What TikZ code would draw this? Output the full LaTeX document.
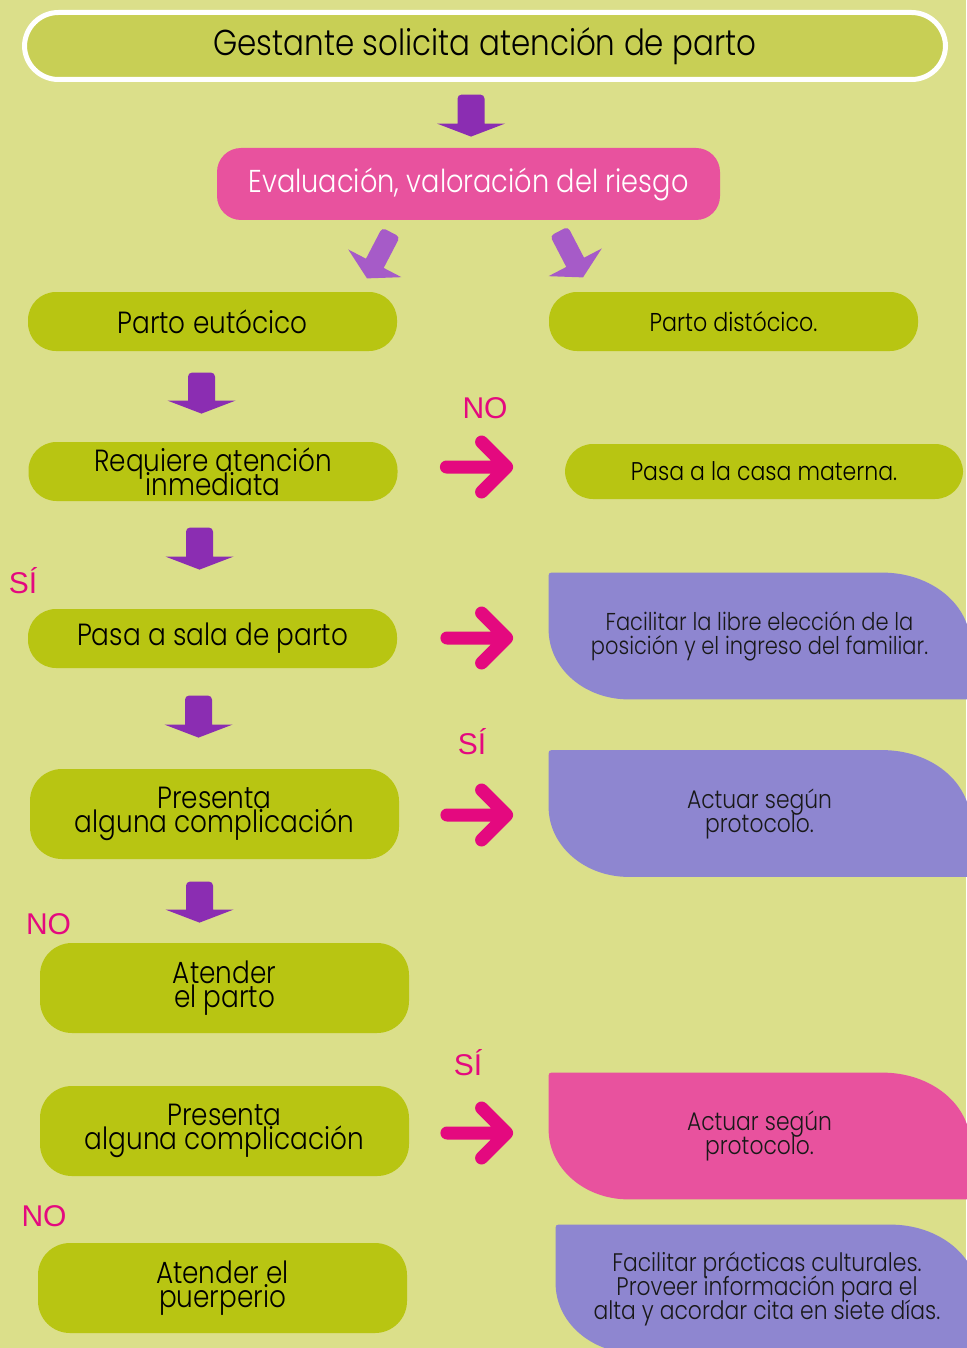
\documentclass[tikz,border=0pt]{standalone}
\usepackage{fontspec}
\IfFontExistsTF{Poppins Light}{\setmainfont{Poppins Light}[FakeStretch=0.86]}{%
  \IfFontExistsTF{Poppins-Light.ttf}{\setmainfont{Poppins-Light.ttf}[FakeStretch=0.86]}{%
    \setmainfont{Poppins}[FakeStretch=0.86]}}
\newfontfamily\etiq{Liberation Sans}
\usetikzlibrary{calc, backgrounds}
\definecolor{fondo}{HTML}{DBDF8A}
\definecolor{verdetop}{HTML}{C8CF55}
\definecolor{lima}{HTML}{B8C512}
\definecolor{rosanodo}{HTML}{E8529E}
\definecolor{lila}{HTML}{8E86D0}
\definecolor{morado}{HTML}{8B2DB2}
\definecolor{lilaflecha}{HTML}{A65BC8}
\definecolor{rosa}{HTML}{E4097F}

% tamano de letra con renglones apretados
\newcommand{\tam}[1]{\fontsize{#1}{12}\selectfont\lineskiplimit=-30pt\lineskip=0pt}
% flecha de bloque hacia abajo: punta, largo
\newcommand{\bajada}[2]{%
  \fill[morado] ($(#1)+(-13.5,-13)$) [rounded corners=2pt] -- ++(0,-#2+13) -- ++(27,0)
    [sharp corners] -- ($(#1)+(13.5,-13)$) -- ++(20.5,0) -- (#1) -- ($(#1)+(-34,-13)$) -- cycle;}
% flecha rosa: inicio, punta
\newcommand{\flecharosa}[2]{%
  \draw[flecha] (#1) -- (#2) ++(-25,-25) -- (#2) -- ++(-25,25);}
% fondo de las hojas
\newcommand{\hojafondo}[2]{%
  \fill[#2] (#1.south east) -- ($(#1.south west)+(80,0)$)
    .. controls ($(#1.south west)+(36,0)$) and ($(#1.south west)+(0,-31)$) .. ($(#1.south west)+(0,-70)$)
    -- ($(#1.north west)+(0,6)$) .. controls (#1.north west) .. ($(#1.north west)+(6,0)$)
    -- ($(#1.north east)+(-88,0)$)
    .. controls ($(#1.north east)+(-39,0)$) and ($(#1.north east)+(0,32)$) .. ($(#1.north east)+(0,72)$)
    -- cycle;}

\begin{document}
\begin{tikzpicture}[x=0.5pt, y=-0.5pt,
    every node/.style={inner sep=0pt, align=center},
    paso/.style={fill=lima, rounded corners=14pt, minimum width=184.5pt, minimum height=29.5pt,
      font=\tam{15.3}},
    pasoalto/.style={paso, minimum height=45pt, rounded corners=16pt},
    hoja/.style={minimum width=210.5pt, minimum height=63pt, text=black!90, font=\tam{12.7}},
    resp/.style={text=rosa, font=\etiq\fontsize{15}{15}\selectfont},
    flecha/.style={draw=rosa, line width=6.5pt, line cap=round, line join=round}]
    \useasboundingbox (0,0) rectangle (966,1348);

    % Inicio
    \node[draw=white, line width=2.5pt, fill=verdetop, rounded corners=17pt, minimum width=460.5pt,
      minimum height=33.5pt, font=\tam{18}] (gest) at (485,46) {Gestante solicita atención de parto};
    \node[fill=rosanodo, rounded corners=12pt, minimum width=251.5pt, minimum height=36pt, text=white,
      font=\tam{15.8}] (eval) at (468.5,184) {Evaluación, valoración del riesgo};

    % Columna izquierda
    \node[paso] (eut) at (212.5,321.5) {Parto eutócico};
    \node[paso] (req) at (213,471.5) {Requiere atención\\inmediata};
    \node[paso] (sala) at (212.5,638.5) {Pasa a sala de parto};
    \node[pasoalto] (comp1) at (214.5,814) {Presenta\\alguna complicación};
    \node[pasoalto] (parto) at (224.5,988) {Atender\\el parto};
    \node[pasoalto] (comp2) at (224.5,1131) {Presenta\\alguna complicación};
    \node[pasoalto] (puer) at (222.5,1288) {Atender el\\puerperio};

    % Columna derecha
    \node[paso, font=\tam{12.9}] (dist) at (733.5,321.5) {Parto distócico.};
    \node[paso, minimum width=199pt, minimum height=27.5pt, font=\tam{12.8}] (casa) at (764,471.5) {Pasa a la casa materna.};
    \node[hoja, font=\tam{12.2}] (libre) at (759.5,636) {Facilitar la libre elección de la\\posición y el ingreso del familiar.};
    \node[hoja] (prot1) at (759.5,813.5) {Actuar según\\protocolo.};
    \node[hoja] (prot2) at (759.5,1136) {Actuar según\\protocolo.};
    \node[hoja, minimum width=211pt, minimum height=64pt] (cult) at (767,1289) {Facilitar prácticas culturales.\\Proveer información para el\\alta y acordar cita en siete días.};

    % Respuestas
    \node[resp] (no1) at (485,408.5) {NO};
    \node[resp, anchor=base] (si1) at (23,593) {SÍ};
    \node[resp, anchor=base] (si2) at (472,754) {SÍ};
    \node[resp] (no2) at (48.5,924.5) {NO};
    \node[resp, anchor=base] (si3) at (468,1075) {SÍ};
    \node[resp] (no3) at (44,1216.5) {NO};

    % Flechas moradas
    \coordinate (p1) at ($(eval.north)+(2.5,-11)$);
    \coordinate (p2) at ($(req.north)+(-11.5,-28)$);
    \coordinate (p3) at ($(sala.north)+(-13,-39)$);
    \coordinate (p4) at ($(comp1.north)+(-16,-31)$);
    \coordinate (p5) at ($(parto.north)+(-25,-20)$);
    \bajada{p1}{42}
    \bajada{p2}{41}
    \bajada{p3}{42}
    \bajada{p4}{42}
    \bajada{p5}{41}
    \begin{scope}[shift={($(eval.south)+(-101.5,58)$)}, rotate=-27.5]
      \fill[lilaflecha] (-10,-17) [rounded corners=2pt] -- (-10,-52) -- (10,-52) [sharp corners] -- (10,-17) -- (30,-17) -- (0,0) -- (-30,-17) -- cycle;
    \end{scope}
    \begin{scope}[shift={($(eval.south)+(114.5,57)$)}, rotate=27.5]
      \fill[lilaflecha] (-10,-17) [rounded corners=2pt] -- (-10,-52) -- (10,-52) [sharp corners] -- (10,-17) -- (30,-17) -- (0,0) -- (-30,-17) -- cycle;
    \end{scope}

    % Flechas rosas
    \coordinate (f1a) at ($(req.east)+(48.5,-4.5)$);
    \coordinate (f1b) at ($(casa.west)+(-58,-4.5)$);
    \coordinate (f2a) at ($(sala.east)+(49.5,-0.5)$);
    \coordinate (f2b) at ($(libre.west)+(-42,2)$);
    \coordinate (f3a) at ($(comp1.east)+(47.5,1)$);
    \coordinate (f3b) at ($(prot1.west)+(-42,1.5)$);
    \coordinate (f4a) at ($(comp2.east)+(37.5,2)$);
    \coordinate (f4b) at ($(prot2.west)+(-42,-3)$);
    \flecharosa{f1a}{f1b}
    \flecharosa{f2a}{f2b}
    \flecharosa{f3a}{f3b}
    \flecharosa{f4a}{f4b}

    % Fondo
    \begin{scope}[on background layer]
      \fill[fondo] (0,0) rectangle (966,1348);
      \hojafondo{libre}{lila}
      \hojafondo{prot1}{lila}
      \hojafondo{prot2}{rosanodo}
      \hojafondo{cult}{lila}
    \end{scope}
\end{tikzpicture}
\end{document}
